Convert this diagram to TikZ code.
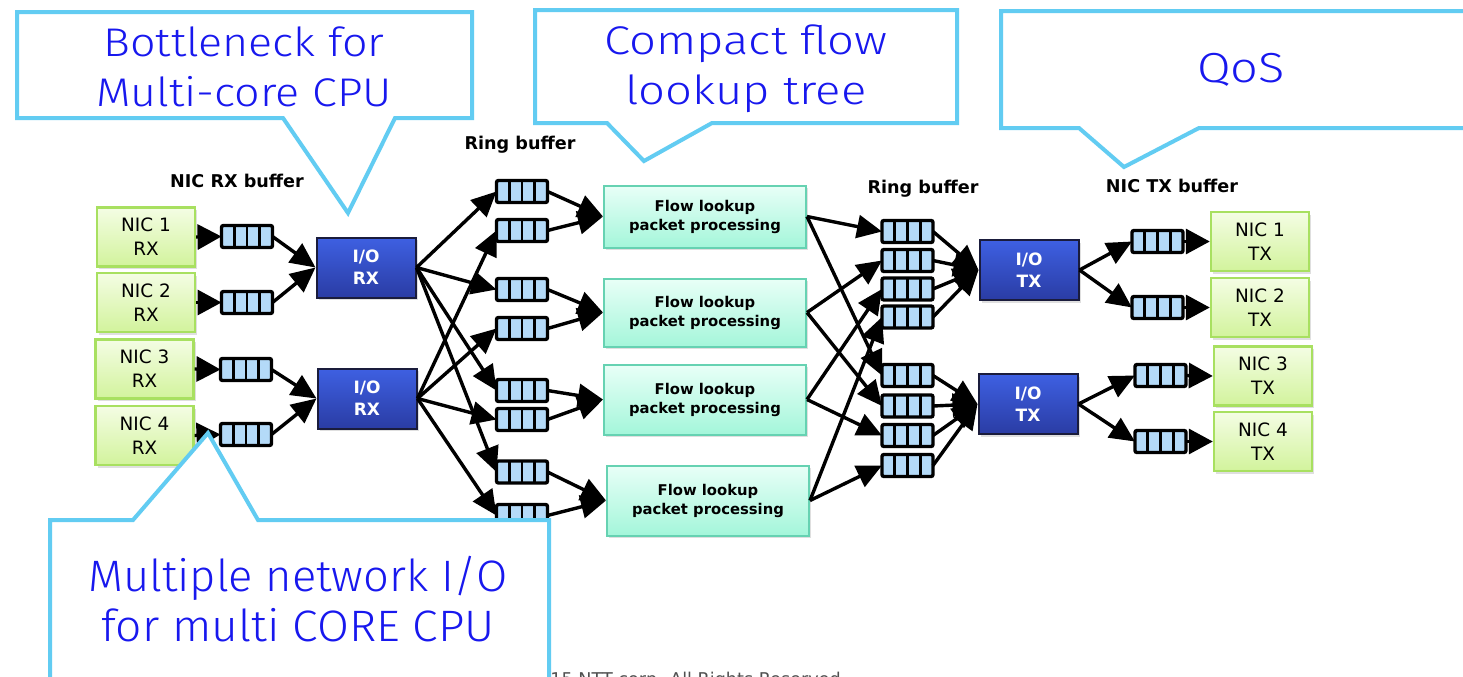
\documentclass[tikz,border=0pt]{standalone}
\usepackage{graphicx}
\usepackage{fontspec}
\setmainfont{DejaVu Sans}
\newfontfamily\callfont{Fira Sans Light}
\usetikzlibrary{arrows.meta,calc,shadows}

\definecolor{nicedge}{HTML}{A8E060}
\definecolor{nictop}{HTML}{F4FDE4}
\definecolor{nicbot}{HTML}{D2F39C}
\definecolor{flowedge}{HTML}{66D2B2}
\definecolor{flowtop}{HTML}{E8FFF7}
\definecolor{flowbot}{HTML}{A4F6DA}
\definecolor{iotop}{HTML}{3E60E2}
\definecolor{iobot}{HTML}{2A3CA4}
\definecolor{ioedge}{HTML}{1A1C3C}
\definecolor{cellblue}{HTML}{B4DAF8}
\definecolor{calledge}{HTML}{62CCF2}
\definecolor{calltext}{HTML}{1818EE}
\definecolor{foot}{HTML}{505050}

% horizontally stretched callout line
\newcommand\wideline[2][1.12]{\scalebox{#1}[1]{#2}}

\begin{document}
\begin{tikzpicture}[x=0.5pt,y=-0.5pt,
  boxshadow/.style={drop shadow={opacity=0.25,shadow xshift=1pt,shadow yshift=-1.3pt}},
  nicbox/.style={draw=nicedge,line width=1.2pt,top color=nictop,bottom color=nicbot,
    minimum width=49pt,minimum height=29.5pt,inner sep=0pt,align=center,
    font=\fontsize{9.2}{12}\selectfont,boxshadow},
  iobox/.style={draw=ioedge,line width=1pt,top color=iotop,bottom color=iobot,
    text=white,minimum width=49.5pt,minimum height=30pt,inner sep=0pt,align=center,
    font=\bfseries\fontsize{8.5}{11}\selectfont,boxshadow},
  flowbox/.style={draw=flowedge,line width=1pt,top color=flowtop,bottom color=flowbot,
    minimum width=101pt,inner sep=0pt,align=center,
    font=\bfseries\fontsize{7.4}{9.5}\selectfont,boxshadow},
  qbuf/.style={draw=black,line width=1.7pt,fill=cellblue,rounded corners=1pt,
    minimum width=25.5pt,minimum height=11pt,inner sep=0pt,outer sep=0pt,
    path picture={
      \foreach \f in {0.25,0.5,0.75}{
        \draw[line width=1.3pt]
          ($(path picture bounding box.south west)!\f!(path picture bounding box.south east)$) --
          ($(path picture bounding box.north west)!\f!(path picture bounding box.north east)$);
      }}},
  flowarr/.style={line width=1.7pt,-{Triangle[length=12.5pt,width=11.5pt]}},
  nicarr/.style={line width=1.7pt,-{Triangle[length=12pt,width=12.5pt]}},
  lbl/.style={font=\bfseries\fontsize{8.8}{11}\selectfont},
  callout/.style={draw=calledge,line width=2pt,fill=white},
  calltxt/.style={text=calltext,align=center},
]
\useasboundingbox (0,0) rectangle (1463,676);
\clip (0,0) rectangle (1463,676);
\fill[white] (0,0) rectangle (1463,676);

% receive side NICs and their buffers
\node[nicbox] (nr1) at (146,237)   {NIC 1\\RX};
\node[nicbox] (nr2) at (146,302.5) {NIC 2\\RX};
\node[nicbox] (nr3) at (144.5,369) {NIC 3\\RX};
\node[nicbox] (nr4) at (144.5,435.5) {NIC 4\\RX};

\node[qbuf] (rb1) at (247,236.5) {};
\node[qbuf] (rb2) at (247,302.5) {};
\node[qbuf] (rb3) at (246,369.5) {};
\node[qbuf] (rb4) at (246,434.5) {};

\node[iobox] (ior1) at (366,267.5) {I/O\\RX};
\node[iobox] (ior2) at (367,398.5) {I/O\\RX};

% first column of ring buffers
\node[qbuf] (rg1) at (522,191.5) {};
\node[qbuf] (rg2) at (522,230.5) {};
\node[qbuf] (rg3) at (522,289.5) {};
\node[qbuf] (rg4) at (522,328.5) {};
\node[qbuf] (rg5) at (522,390.5) {};
\node[qbuf] (rg6) at (522,419.5) {};
\node[qbuf] (rg7) at (522,472) {};
\node[qbuf] (rg8) at (522,515.5) {};

% worker cores
\node[flowbox,minimum height=31pt] (fl1) at (705,216.5) {Flow lookup\\packet processing};
\node[flowbox,minimum height=34pt] (fl2) at (705,312.5) {Flow lookup\\packet processing};
\node[flowbox,minimum height=35pt] (fl3) at (705,399.5) {Flow lookup\\packet processing};
\node[flowbox,minimum height=35pt] (fl4) at (708,500.5) {Flow lookup\\packet processing};

% second column of ring buffers
\node[qbuf] (sg1) at (907.5,231.5) {};
\node[qbuf] (sg2) at (907.5,260.5) {};
\node[qbuf] (sg3) at (907.5,289) {};
\node[qbuf] (sg4) at (907.5,317) {};
\node[qbuf] (sg5) at (907.5,375.5) {};
\node[qbuf] (sg6) at (907.5,406) {};
\node[qbuf] (sg7) at (907.5,435.5) {};
\node[qbuf] (sg8) at (907.5,465.5) {};

\node[iobox] (iot1) at (1029,270) {I/O\\TX};
\node[iobox] (iot2) at (1028,404) {I/O\\TX};

% transmit side buffers and NICs
\node[qbuf] (tb1) at (1157.5,241.5) {};
\node[qbuf] (tb2) at (1157.5,307.5) {};
\node[qbuf] (tb3) at (1160.5,375.5) {};
\node[qbuf] (tb4) at (1160.5,441.5) {};

\node[nicbox] (nt1) at (1260,241.5) {NIC 1\\TX};
\node[nicbox] (nt2) at (1260,307.5) {NIC 2\\TX};
\node[nicbox] (nt3) at (1263,376)   {NIC 3\\TX};
\node[nicbox] (nt4) at (1263,441.5) {NIC 4\\TX};

% column labels
\node[lbl] (lrx)  at (237,181) {NIC RX buffer};
\node[lbl] (lrg1) at (520,145) {Ring buffer};
\node[lbl] (lrg2) at (923,189) {Ring buffer};
\node[lbl] (ltx)  at (1172,186) {NIC TX buffer};

% connectors
\foreach \i in {1,...,4}{
  \draw[nicarr] (nr\i.east) -- (rb\i.west);
  \draw[nicarr] (tb\i.east) -- (nt\i.west);
}
\draw[flowarr] (rb1.east) -- (ior1.west);
\draw[flowarr] (rb2.east) -- (ior1.west);
\draw[flowarr] (rb3.east) -- (ior2.west);
\draw[flowarr] (rb4.east) -- (ior2.west);
\foreach \j in {1,3,5,7} \draw[flowarr] (ior1.east) -- (rg\j.west);
\foreach \j in {2,4,6,8} \draw[flowarr] (ior2.east) -- (rg\j.west);
\foreach \i/\a/\b in {1/1/2,2/3/4,3/5/6,4/7/8}{
  \draw[flowarr] (rg\a.east) -- (fl\i.west);
  \draw[flowarr] (rg\b.east) -- (fl\i.west);
}
\foreach \i/\k in {1/5,2/6,3/7,4/8}{
  \draw[flowarr] (fl\i.east) -- (sg\i.west);
  \draw[flowarr] (fl\i.east) -- (sg\k.west);
}
\foreach \j in {1,...,4} \draw[flowarr] (sg\j.east) -- (iot1.west);
\foreach \j in {5,...,8} \draw[flowarr] (sg\j.east) -- (iot2.west);
\draw[flowarr] (iot1.east) -- (tb1.west);
\draw[flowarr] (iot1.east) -- (tb2.west);
\draw[flowarr] (iot2.east) -- (tb3.west);
\draw[flowarr] (iot2.east) -- (tb4.west);

% footer line, running off the bottom edge
\node[anchor=base west,font=\fontsize{8.8}{10}\selectfont,text=foot,inner sep=0pt] (foot)
  at (550,685) {\llap{Copyright\textcopyright 20}15 NTT corp. All Rights Reserved.};

% callouts
\draw[callout] (17,12) -- (472,12) -- (472,118) -- (395,118) -- (348,213)
  -- (283,118) -- (17,118) -- cycle;
\node[calltxt,font=\callfont\fontsize{20}{25}\selectfont] (c1) at (244,67)
  {\wideline{Bottleneck for}\\\wideline{Multi-core CPU}};

\draw[callout] (535,10) -- (957,10) -- (957,123) -- (712,123) -- (644,161)
  -- (607,123) -- (535,123) -- cycle;
\node[calltxt,font=\callfont\fontsize{20}{25}\selectfont] (c2) at (746,69)
  {\wideline[1.18]{Compact flow}\\\wideline[1.18]{lookup tree}};

\draw[callout] (1001,11) -- (1490,11) -- (1490,128) -- (1199,128) -- (1124,167)
  -- (1079,128) -- (1001,128) -- cycle;
\node[calltxt,font=\callfont\fontsize{21}{25}\selectfont] (c3) at (1241,70)
  {\wideline[1.16]{QoS}};

\draw[callout] (50,520) -- (133,520) -- (208,433) -- (258,520) -- (549,520)
  -- (549,700) -- (50,700) -- cycle;
\node[calltxt,font=\callfont\fontsize{22}{25}\selectfont] (c4) at (298,599)
  {\wideline[1.03]{Multiple network I/O}\\\wideline[1.05]{for multi CORE CPU}};
\end{tikzpicture}
\end{document}
